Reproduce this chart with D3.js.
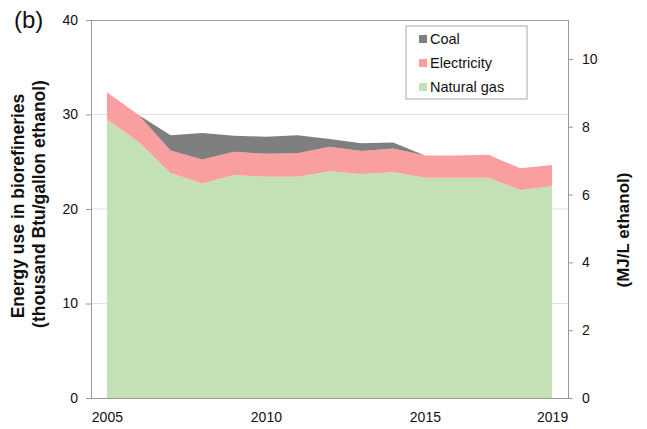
<!DOCTYPE html>
<meta charset="utf-8">
<script src="https://d3js.org/d3.v7.min.js"></script>
<style>
  body { margin: 0; background: #fff; }
  text { font-family: "Liberation Sans", Arial, sans-serif; fill: #111; }
</style>
<div id="chart"></div>
<script>

  // data (thousand Btu / gallon ethanol)
  var years = [2005, 2006, 2007, 2008, 2009, 2010, 2011, 2012, 2013, 2014, 2015, 2016, 2017, 2018, 2019];
  var naturalGas  = [29.5, 27.1, 23.8, 22.7, 23.6, 23.4, 23.4, 24.0, 23.7, 23.9, 23.3, 23.3, 23.3, 22.0, 22.4];
  var electricity = [2.85, 2.85, 2.4, 2.55, 2.45, 2.45, 2.5, 2.6, 2.45, 2.5, 2.35, 2.35, 2.45, 2.3, 2.25];
  var coal        = [0, 0, 1.6, 2.8, 1.7, 1.8, 1.9, 0.8, 0.8, 0.65, 0, 0, 0, 0, 0];
  var seriesNames = ["Natural gas", "Electricity", "Coal"];
  var xTicks = [2005, 2010, 2015, 2019];
  var leftTicks = [0, 10, 20, 30, 40];
  var rightTicks = [0, 2, 4, 6, 8, 10];

  var colors = {"Coal": "#7f7f7f", "Electricity": "#fa9f9f", "Natural gas": "#c4e0b5"};

  var W = 647, H = 429;
  var margin = {top: 20, right: 79, bottom: 31, left: 91};
  var width = W - margin.left - margin.right,
      height = H - margin.top - margin.bottom;

  var svg = d3.select("#chart").append("svg")
      .attr("width", W).attr("height", H);
  var g = svg.append("g")
      .attr("transform", "translate(" + margin.left + "," + margin.top + ")");

  var table = years.map(function(yr, i) {
    return {year: yr, "Natural gas": naturalGas[i], "Electricity": electricity[i], "Coal": coal[i]};
  });

  var x = d3.scaleLinear().domain([2004.5, 2019.5]).range([0, width]);
  var y = d3.scaleLinear().domain([0, 40]).range([height, 0]);
  // 1 thousand Btu/gal = 1.05506 MJ / 3.78541 L
  var y2 = d3.scaleLinear().domain([0, 40 * 1.05506 / 3.78541]).range([height, 0]);

  // gridlines
  g.append("g").selectAll("line")
    .data([10, 20, 30])
    .enter().append("line")
      .attr("x1", 0).attr("x2", width)
      .attr("y1", function(d) { return y(d); })
      .attr("y2", function(d) { return y(d); })
      .style("stroke", "#e2e2e2");
  // top border
  g.append("line")
    .attr("x1", 0).attr("x2", width)
    .attr("y1", y(40) + 0.5).attr("y2", y(40) + 0.5)
    .style("stroke", "#a0a0a0");

  // stacked areas
  var stack = d3.stack().keys(seriesNames);
  var layers = stack(table);
  var area = d3.area()
    .x(function(d) { return x(d.data.year); })
    .y0(function(d) { return y(d[0]); })
    .y1(function(d) { return y(d[1]); });

  g.append("g").selectAll("path")
    .data(layers)
    .enter().append("path")
      .attr("d", area)
      .style("fill", function(d) { return colors[d.key]; });

  // left axis
  var axL = g.append("g")
    .call(d3.axisLeft(y).tickValues(leftTicks).tickSize(5).tickPadding(8));
  // right axis
  var axR = g.append("g")
    .attr("transform", "translate(" + width + ",0)")
    .call(d3.axisRight(y2).tickValues(rightTicks).tickSize(5).tickPadding(9));
  // bottom axis
  var axB = g.append("g")
    .attr("transform", "translate(0," + height + ")")
    .call(d3.axisBottom(x).tickValues(xTicks).tickFormat(d3.format("d")).tickSize(0).tickPadding(14));

  [axL, axR, axB].forEach(function(ax) {
    ax.select(".domain").style("stroke", "#999");
    ax.selectAll(".tick line").style("stroke", "#999");
    ax.selectAll("text").style("font-size", "14px").style("font-family", "Liberation Sans, Arial, sans-serif").attr("fill", "#111");
  });
  axB.select(".domain").attr("d", "M-5,0.5H" + width);
  axL.select(".domain").attr("d", "M0.5," + height + "V0");
  axR.select(".domain").attr("d", "M0.5," + height + "V0");

  // axis titles
  svg.append("text")
    .attr("transform", "translate(24,206) rotate(-90)")
    .attr("text-anchor", "middle")
    .style("font-size", "17.5px").style("font-weight", "bold")
    .text("Energy use in biorefineries");
  svg.append("text")
    .attr("transform", "translate(45,204) rotate(-90)")
    .attr("text-anchor", "middle")
    .style("font-size", "17.5px").style("font-weight", "bold")
    .text("(thousand Btu/gallon ethanol)");
  svg.append("text")
    .attr("transform", "translate(629,230) rotate(-90)")
    .attr("text-anchor", "middle")
    .style("font-size", "17px").style("font-weight", "bold")
    .text("(MJ/L ethanol)");

  // panel label
  svg.append("text")
    .attr("x", 14).attr("y", 28)
    .style("font-size", "24px")
    .text("(b)");

  // legend
  var legendItems = ["Coal", "Electricity", "Natural gas"];
  var legend = svg.append("g").attr("transform", "translate(406,26)");
  legend.append("rect")
    .attr("width", 121).attr("height", 73)
    .style("fill", "#fff").style("stroke", "#aaa");
  legend.selectAll(".sw")
    .data(legendItems)
    .enter().append("rect")
      .attr("class", "sw")
      .attr("x", 13)
      .attr("y", function(d, i) { return 9 + i * 24; })
      .attr("width", 8).attr("height", 8)
      .style("fill", function(d) { return colors[d]; });
  legend.selectAll(".lt")
    .data(legendItems)
    .enter().append("text")
      .attr("class", "lt")
      .attr("x", 24)
      .attr("y", function(d, i) { return 18 + i * 24; })
      .style("font-size", "14.5px")
      .text(function(d) { return d; });

</script>
